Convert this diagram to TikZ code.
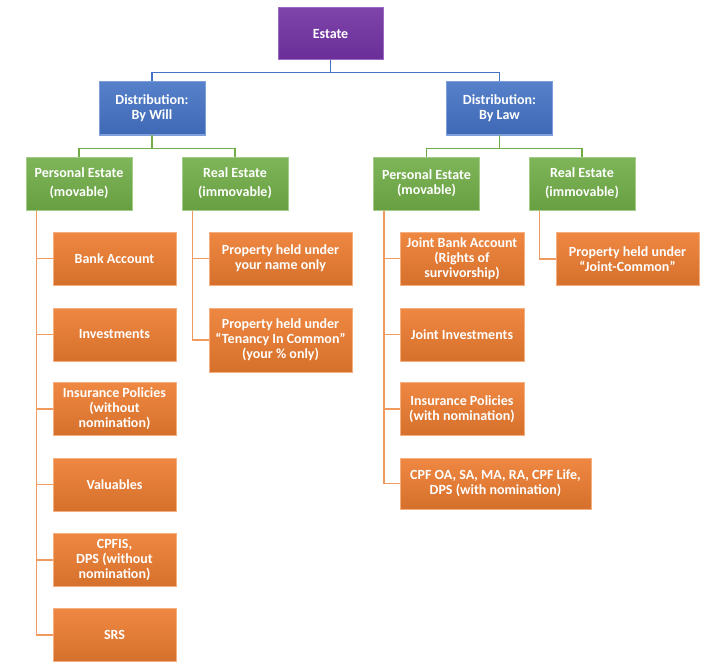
\documentclass[tikz,border=0pt]{standalone}
\usepackage{fontspec}
\setmainfont{Carlito}
\usetikzlibrary{positioning}
\definecolor{estfill}{HTML}{7030A0}
\definecolor{estline}{HTML}{9B6BC4}
\definecolor{distfill}{HTML}{4472C4}
\definecolor{distline}{HTML}{7E9FDB}
\definecolor{grpfill}{HTML}{70AD47}
\definecolor{grpline}{HTML}{A3CD88}
\definecolor{itemfill}{HTML}{ED7D31}
\definecolor{itemline}{HTML}{F5AE7E}
\definecolor{wireorange}{HTML}{F09A5E}
\newcommand{\boxfont}{\fontsize{14}{15}\selectfont\bfseries}
\tikzset{
 every node/.append style={font=\boxfont,text=white,align=center},
 tile/.style={inner sep=0pt,line width=1pt,minimum height=53pt},
 root/.style={tile,draw=estline,top color=estfill!90!white,bottom color=estfill!95!black,minimum width=105pt,minimum height=52pt},
 dist/.style={tile,draw=distline,top color=distfill!90!white,bottom color=distfill!92!black,minimum width=106pt},
 group/.style={tile,draw=grpline,top color=grpfill!90!white,bottom color=grpfill!92!black,minimum width=106pt},
 asset/.style={tile,draw=itemline,top color=itemfill!92!white,bottom color=itemfill!90!black,minimum width=123pt},
 bluewire/.style={draw=distfill,line width=1.6pt},
 greenwire/.style={draw=grpfill,line width=1.6pt},
 orangewire/.style={draw=wireorange,line width=1.6pt},
}
\begin{document}
\begin{tikzpicture}[x=1pt,y=-1pt]

\useasboundingbox[fill=white] (0,0) rectangle (705,669);

% top of the tree
\node[root] (estate) at (330.5,34) {Estate};
\node[dist] (will) at (152,108.5) {Distribution:\\By Will};
\node[dist] (law) at (499.5,108.5) {Distribution:\\By Law};
\draw[bluewire] (estate.south) -- +(0,12) -| (will.north);
\draw[bluewire] (estate.south) -- +(0,12) -| (law.north);

% second level
\node[group] (perwill) at (79,183.5) {Personal Estate\\[4pt](movable)};
\node[group] (realwill) at (235,183.5) {Real Estate\\[4pt](immovable)};
\node[group] (perlaw) at (426.5,183.5) {Personal Estate\\(movable)};
\node[group] (reallaw) at (582,183.5) {Real Estate\\[4pt](immovable)};
\draw[greenwire] (will.south) -- +(0,13) -| (perwill.north);
\draw[greenwire] (will.south) -- +(0,13) -| (realwill.north);
\draw[greenwire] (law.south) -- +(0,13) -| (perlaw.north);
\draw[greenwire] (law.south) -- +(0,13) -| (reallaw.north);

% by will, personal estate
\node[asset] (bank) at (114.5,258.5) {Bank Account};
\node[asset] (invest) at (114.5,334.5) {Investments};
\node[asset] (insure) at (114.5,409) {Insurance Policies\\(without\\nomination)};
\node[asset] (valuables) at (114.5,484.5) {Valuables};
\node[asset] (cpfis) at (114.5,560) {CPFIS,\\DPS (without\\nomination)};
\node[asset] (srs) at (114.5,635) {SRS};
\foreach \n in {bank,invest,insure,valuables,cpfis,srs}
  \draw[orangewire] ([xshift=11pt]perwill.south west) |- (\n.west);

% by will, real estate
\node[asset,minimum width=143pt] (ownname) at (280.5,258.5) {Property held under\\your name only};
\node[asset,minimum width=143pt,minimum height=64pt] (tenancy) at (280.5,340) {Property held under\\“Tenancy In Common”\\(your \% only)};
\foreach \n in {ownname,tenancy}
  \draw[orangewire] ([xshift=11pt]realwill.south west) |- (\n.west);

% by law, personal estate
\node[asset,minimum width=124pt] (jointbank) at (462,258.5) {Joint Bank Account\\(Rights of\\survivorship)};
\node[asset,minimum width=124pt] (jointinv) at (462,334.5) {Joint Investments};
\node[asset,minimum width=124pt] (insnom) at (462,409) {Insurance Policies\\(with nomination)};
\node[asset,minimum width=191pt,minimum height=51pt] (cpf) at (495.5,483.5) {CPF OA, SA, MA, RA, CPF Life,\\DPS (with nomination)};
\foreach \n in {jointbank,jointinv,insnom,cpf}
  \draw[orangewire] ([xshift=11pt]perlaw.south west) |- (\n.west);

% by law, real estate
\node[asset,minimum width=143pt] (jointcommon) at (627.5,259) {Property held under\\“Joint-Common”};
\draw[orangewire] ([xshift=11pt]reallaw.south west) |- (jointcommon.west);

\end{tikzpicture}
\end{document}
